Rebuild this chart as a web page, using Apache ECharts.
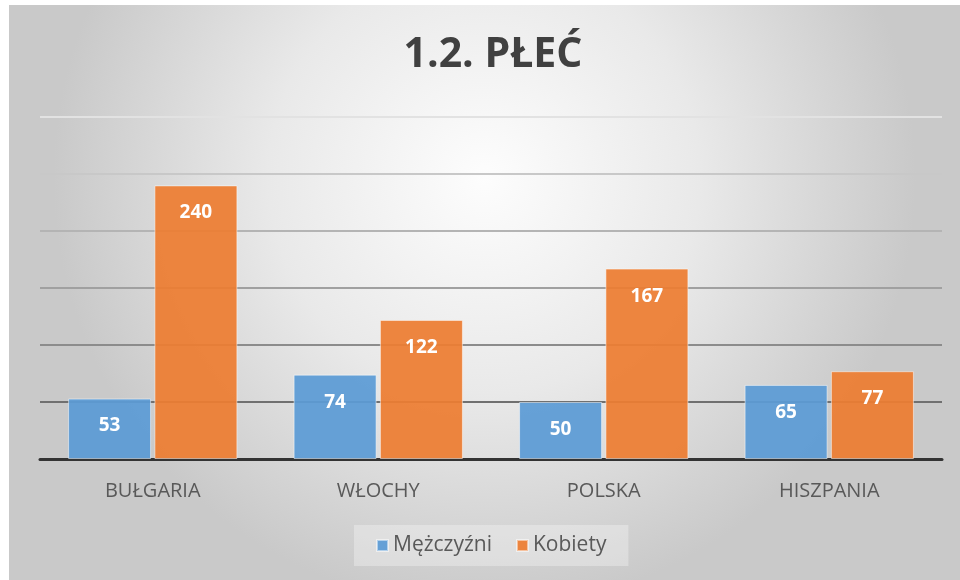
<!DOCTYPE html>
<html>
<head>
<meta charset="utf-8">
<script src="https://cdn.jsdelivr.net/npm/echarts@6/dist/echarts.min.js"></script>
<style>
html,body{margin:0;padding:0;background:#fff;}
#c{width:960px;height:580px;}
</style>
</head>
<body>
<div id="c"></div>
<script>
const titleText = '1.2. PŁEĆ';
const categories = ['BUŁGARIA', 'WŁOCHY', 'POLSKA', 'HISZPANIA'];
const seriesNames = ['Mężczyźni', 'Kobiety'];
const menValues = [53, 74, 50, 65];
const womenValues = [240, 122, 167, 77];

const chart = echarts.init(document.getElementById('c'), null, {renderer: 'canvas'});
const font = '"Open Sans", "DejaVu Sans", sans-serif';
const labelCfg = {
  show: true, position: 'insideTop', distance: 18,
  color: '#ffffff', fontFamily: font, fontWeight: 'bold', fontSize: 19
};
chart.setOption({
  animation: false,
  graphic: [{
    type: 'rect', left: 9, top: 5, z: -10, silent: true,
    shape: {width: 951, height: 575},
    style: {
      fill: {
        type: 'radial', x: 0.5, y: 0.3, r: 0.75,
        colorStops: [
          {offset: 0, color: '#fdfdfd'},
          {offset: 0.5, color: '#e9e9e9'},
          {offset: 1, color: '#c9c9c9'}
        ]
      }
    }
  }],
  title: {
    text: titleText, left: 488, textAlign: 'center', top: 30,
    textStyle: {fontFamily: font, fontWeight: 'bold', fontSize: 41, color: '#404040'}
  },
  legend: {
    bottom: 14, left: 354,
    itemWidth: 11, itemHeight: 11, itemGap: 24,
    icon: 'rect',
    padding: [10, 22],
    backgroundColor: 'rgba(255,255,255,0.3)',
    textStyle: {fontFamily: font, fontSize: 21, color: '#595959'},
    data: seriesNames
  },
  grid: {left: 40, right: 18, top: 117, bottom: 121},
  xAxis: {
    type: 'category', data: categories,
    axisLine: {lineStyle: {color: '#333333', width: 3}},
    axisTick: {show: false},
    axisLabel: {fontFamily: font, fontSize: 20, color: '#595959', margin: 22}
  },
  yAxis: {
    type: 'value', min: 0, max: 300, interval: 50,
    axisLabel: {show: false},
    axisLine: {show: false},
    axisTick: {show: false},
    splitLine: {lineStyle: {width: 2, color: ['#333333', '#707070', '#8c8c8c', '#a0a0a0', '#b4b4b4', '#c8c8c8', '#e2e2e2']}}
  },
  series: [
    {
      name: seriesNames[0], type: 'bar', data: menValues,
      barWidth: 83, barGap: '4%',
      itemStyle: {color: 'rgba(91,155,213,0.93)', borderColor: 'rgba(255,255,255,0.5)', borderWidth: 1},
      label: labelCfg
    },
    {
      name: seriesNames[1], type: 'bar', data: womenValues,
      barWidth: 83, barGap: '4%',
      itemStyle: {color: 'rgba(237,125,49,0.93)', borderColor: 'rgba(255,255,255,0.5)', borderWidth: 1},
      label: labelCfg
    }
  ]
});
</script>
</body>
</html>
